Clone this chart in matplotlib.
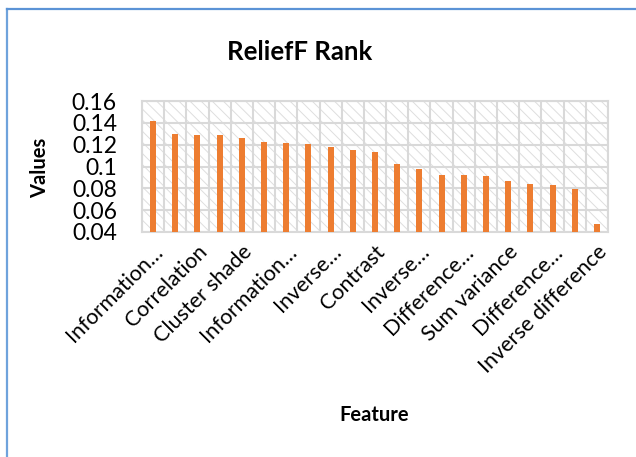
import matplotlib
matplotlib.use("Agg")
import matplotlib.pyplot as plt
import numpy as np
from matplotlib.lines import Line2D
from matplotlib.patches import Rectangle

# ReliefF scores, ranked high to low (21 features)
values = [0.142, 0.130, 0.1286, 0.1286, 0.1258, 0.1225, 0.1215, 0.1203,
          0.118, 0.115, 0.1133, 0.1022, 0.0973, 0.0924, 0.0921, 0.0915,
          0.0866, 0.0838, 0.0835, 0.0792, 0.0474]
# only every second category carries a label on the axis
tick_labels = ["Information…", "Correlation", "Cluster shade", "Information…",
               "Inverse…", "Contrast", "Inverse…", "Difference…",
               "Sum variance", "Difference…", "Inverse difference"]
y_ticks = [0.04, 0.06, 0.08, 0.1, 0.12, 0.14, 0.16]
y_tick_text = ["0.04", "0.06", "0.08", "0.1", "0.12", "0.14", "0.16"]

ORANGE = "#ED7D31"
GRID = "#D9D9D9"
FONT = "Lato"

plt.rcParams["font.family"] = [FONT, "DejaVu Sans"]
plt.rcParams["hatch.linewidth"] = 0.7

W, H = 636, 457
fig = plt.figure(figsize=(W / 100, H / 100), dpi=100)
ax = fig.add_axes([142 / W, 1 - 232 / H, (608 - 142) / W, (232 - 101) / H])

x = np.arange(len(values))
ax.add_patch(Rectangle((0, 0), 1, 1, transform=ax.transAxes, facecolor="white",
                       edgecolor="#DEDEDE", hatch="\\\\\\", linewidth=0, zorder=0))
ax.bar(x, values, width=0.27, color=ORANGE, zorder=3)

ax.set_xlim(-0.5, len(values) - 0.5)
ax.set_ylim(0.04, 0.16)
ax.set_yticks(y_ticks)
ax.set_yticklabels(y_tick_text, fontsize=16.5)
ax.set_xticks(x[::2])
ax.set_xticklabels(tick_labels, rotation=45, ha="right", rotation_mode="anchor",
                   fontsize=15.5)
ax.set_xticks(np.arange(-0.5, len(values), 1.0), minor=True)
ax.tick_params(axis="both", which="both", length=0)
ax.tick_params(axis="y", pad=18)
ax.tick_params(axis="x", pad=7)

ax.grid(True, axis="y", color=GRID, linewidth=1.5, zorder=1)
ax.grid(True, axis="x", which="minor", color=GRID, linewidth=1.5, zorder=1)
ax.grid(False, axis="x", which="major")
for s in ax.spines.values():
    s.set_color(GRID)
    s.set_linewidth(1.5)

fig.text(300 / W, 1 - 52 / H, "ReliefF Rank", ha="center", va="center",
         fontsize=18.5, fontweight="bold")
fig.text(40 / W, 1 - 168 / H, "Values", ha="center", va="center", rotation=90,
         fontsize=14.5, fontweight="bold")
fig.text(374 / W, 1 - 415 / H, "Feature", ha="center", va="center",
         fontsize=14.5, fontweight="bold")

# chart-area frame on the left and top edges
fig.add_artist(Line2D([7 / W, 7 / W], [0, 1 - 9 / H], color="#6FA3DC", linewidth=1.6))
fig.add_artist(Line2D([7 / W, 1], [1 - 9 / H, 1 - 9 / H], color="#5B93D6", linewidth=1.6))

fig.savefig("out.png", dpi=100)
